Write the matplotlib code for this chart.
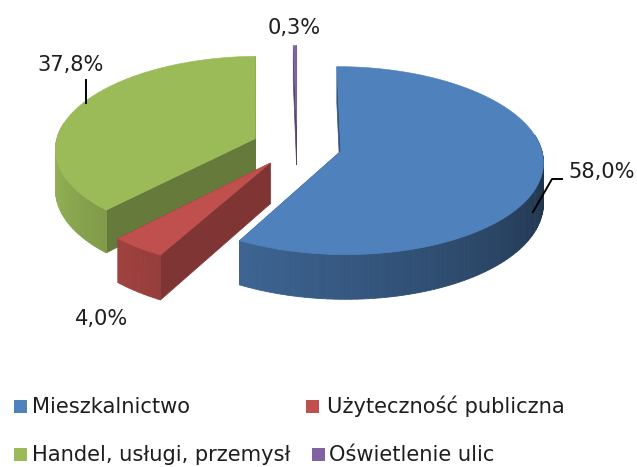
import numpy as np
import matplotlib.pyplot as plt
from matplotlib.patches import Polygon, Rectangle
from matplotlib.colors import to_rgb

# dane
labels = ['Mieszkalnictwo', 'Użyteczność publiczna', 'Handel, usługi, przemysł', 'Oświetlenie ulic']
shares = [58.0, 4.0, 37.8, 0.3]
value_labels = ['58,0%', '4,0%', '37,8%', '0,3%']
colors = ['#4F81BD', '#C0504D', '#9BBB59', '#8064A2']

# parametry rzutu 3D (w pikselach)
CX, CY = 297, 146
RX, RY = 200, 92
DEPTH = 40
PERSP = 0.1
EXPLODE = 0.225

plt.rcParams['font.family'] = ['DejaVu Sans']
FS = 15.1


def proj(x, y, z=0.0):
    den = 1 + PERSP * y
    return CX + RX * x / den, CY - RY * y / den + z * DEPTH / den


def shade(c, f):
    r, g, b = to_rgb(c)
    return (r * f, g * f, b * f)


fig = plt.figure(figsize=(6.37, 4.67), dpi=100)
ax = fig.add_axes([0, 0, 1, 1])
ax.set_xlim(0, 637)
ax.set_ylim(467, 0)
ax.axis('off')

total = sum(shares)
cum = np.concatenate([[0], np.cumsum(shares)]) / total
slices = []
for i in range(len(shares)):
    hi = 90 - 360 * cum[i]
    lo = 90 - 360 * cum[i + 1]
    mid = np.radians((lo + hi) / 2)
    ox, oy = EXPLODE * np.cos(mid), EXPLODE * np.sin(mid)
    slices.append((i, lo, hi, ox, oy))

# od tylu do przodu
slices.sort(key=lambda s: -s[4])

for i, lo, hi, ox, oy in slices:
    col = colors[i]

    # boczne sciany promieniowe
    faces = []
    for ang, sgn in ((lo, -1), (hi, 1)):
        n = np.radians(ang + sgn * 90)
        a = np.radians(ang)
        px, py = ox + np.cos(a), oy + np.sin(a)
        pts = [proj(ox, oy), proj(px, py), proj(px, py, 1), proj(ox, oy, 1)]
        faces.append((np.sin(n), pts))
    faces.sort(key=lambda f: -f[0])
    for s, pts in faces:
        ax.add_patch(Polygon(pts, closed=True, fc=shade(col, 0.66),
                             ec=shade(col, 0.66), lw=0.5))

    # sciana zewnetrzna (tylko przod)
    lo_n, hi_n = lo % 360, lo % 360 + (hi - lo)
    a0 = max(lo_n, 170)
    a1 = min(hi_n, 370)
    if a1 > a0:
        edges = np.arange(a0, a1, 1.5)
        edges = np.append(edges, a1)
        for t0, t1 in zip(edges[:-1], edges[1:]):
            ts = np.radians(np.linspace(t0, t1, 3))
            top = [proj(ox + np.cos(t), oy + np.sin(t)) for t in ts]
            bot = [proj(ox + np.cos(t), oy + np.sin(t), 1) for t in ts[::-1]]
            tm = (t0 + t1) / 2
            f = np.clip(0.92 - 0.0034 * (tm - 200), 0.40, 0.95)
            ax.add_patch(Polygon(top + bot, closed=True, fc=shade(col, f),
                                 ec=shade(col, f), lw=0.6))

    # gorna sciana
    ts = np.radians(np.linspace(lo, hi, max(3, int((hi - lo) / 1.0))))
    pts = [proj(ox, oy)] + [proj(ox + np.cos(t), oy + np.sin(t)) for t in ts]
    ax.add_patch(Polygon(pts, closed=True, fc=col, ec=col, lw=0.4))

# etykiety wartosci
label_pos = [(568, 178), (75, 325), (37, 71), (268, 34)]
for txt, (x, y) in zip(value_labels, label_pos):
    ax.text(x, y, txt, fontsize=FS, color='#1e1e1e', ha='left', va='baseline')

ax.plot([533, 552, 562], [212, 179, 179], color='black', lw=1.4)
ax.plot([86, 86], [80, 103], color='black', lw=1.4)

# legenda
leg_sq = [(14, 400), (306, 400), (14, 448), (312, 448)]
leg_txt = [(32, 413), (327, 413), (32, 461), (329, 461)]
for i in range(len(labels)):
    ax.add_patch(Rectangle(leg_sq[i], 13, 13, fc=colors[i], ec='none'))
    ax.text(leg_txt[i][0], leg_txt[i][1], labels[i], fontsize=FS,
            color='#1e1e1e', ha='left', va='baseline')

fig.savefig('out.png', dpi=100)
